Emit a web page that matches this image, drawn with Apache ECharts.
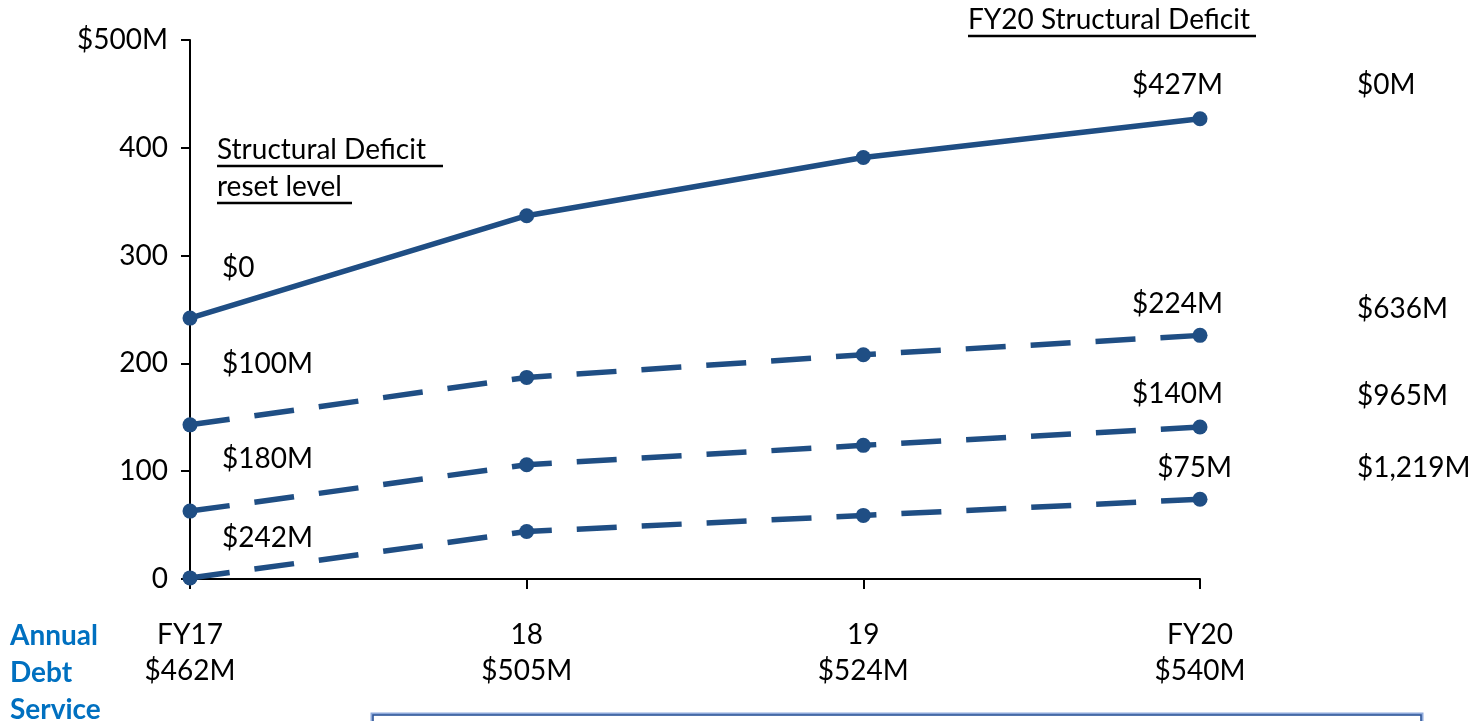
<!DOCTYPE html>
<html>
<head>
<meta charset="utf-8">
<script src="https://cdn.jsdelivr.net/npm/echarts@6/dist/echarts.min.js"></script>
<style>
    html, body { margin: 0; padding: 0; background: #fff; }
    #chart { width: 1480px; height: 721px; }
</style>
</head>
<body>
<div id="chart"></div>
<script>
// Data
const years = ['FY17', '18', '19', 'FY20']
const debtService = ['$462M', '$505M', '$524M', '$540M']
const resetZero = [242, 337, 391, 427]
const reset100 = [143, 187, 208, 226]
const reset180 = [63, 106, 124, 141]
const reset242 = [1, 44, 59, 74]
const resetLabels = ['$0', '$100M', '$180M', '$242M']
const endLabels = ['$427M', '$224M', '$140M', '$75M']
const fy20Deficit = ['$0M', '$636M', '$965M', '$1,219M']

const blue = '#1F4E84'
const font = 'Lato, "Open Sans", sans-serif'
const fs = 28

const chart = echarts.init(document.getElementById('chart'))

function lineSeries(name, data, dashed) {
    return {
        name: name,
        type: 'line',
        data: data,
        symbol: 'circle',
        symbolSize: 15,
        itemStyle: { color: blue },
        lineStyle: { color: blue, width: 5.5, type: dashed ? [40, 25] : 'solid' },
        animation: false,
        z: 3
    }
}

function txt(x, y, text, align) {
    return {
        type: 'text',
        x: x,
        y: y,
        style: { text: text, font: fs + 'px ' + font, fill: '#000', textVerticalAlign: 'middle', textAlign: align || 'left' }
    }
}

function underline(x1, x2, y) {
    return { type: 'line', shape: { x1: x1, y1: y, x2: x2, y2: y }, style: { stroke: '#000', lineWidth: 2.5 } }
}

const graphics = []

// left labels (reset level)
const leftY = [268, 364, 459, 538]
resetLabels.forEach((t, i) => graphics.push(txt(222, leftY[i], t)))

// end labels near FY20 points
const endY = [85, 304, 394, 468]
endLabels.forEach((t, i) => graphics.push(txt(1223 + (i === 3 ? 9 : 0), endY[i], t, 'right')))

// FY20 structural deficit column
const rightY = [85, 309, 396, 468]
fy20Deficit.forEach((t, i) => graphics.push(txt(1357, rightY[i], t)))

// headings
graphics.push(txt(968, 20, 'FY20 Structural Deficit'))
graphics.push(underline(968, 1256, 36))
graphics.push(txt(217, 150, 'Structural Deficit'))
graphics.push(underline(217, 443, 166))
graphics.push(txt(217, 187, 'reset level'))
graphics.push(underline(217, 352, 203))

// Annual Debt Service
;['Annual', 'Debt', 'Service'].forEach((t, i) => graphics.push({
    type: 'text', x: 10, y: 636 + i * 37,
    style: { text: t, font: 'bold ' + fs + 'px ' + font, fill: '#0070C0', textVerticalAlign: 'middle' }
}))

// box at bottom
graphics.push({ type: 'rect', shape: { x: 372, y: 714, width: 1050, height: 40 }, style: { fill: 'none', stroke: '#8EA9DB', lineWidth: 3 } })
graphics.push({ type: 'rect', shape: { x: 373, y: 715, width: 1048, height: 40 }, style: { fill: 'none', stroke: '#2F5597', lineWidth: 1.5 } })

const option = {
    backgroundColor: '#fff',
    animation: false,
    grid: { left: 190, right: 280, top: 40, bottom: 142, containLabel: false },
    xAxis: {
        type: 'category',
        data: years,
        boundaryGap: false,
        axisLine: { lineStyle: { color: '#000', width: 2 } },
        axisTick: { show: true, inside: false, length: 10, alignWithLabel: true, lineStyle: { color: '#000', width: 2 } },
        axisLabel: {
            margin: 38,
            color: '#000',
            fontSize: fs,
            fontFamily: font,
            lineHeight: 36,
            formatter: (v, i) => v + '\n' + debtService[i]
        },
        splitLine: { show: false }
    },
    yAxis: {
        type: 'value',
        min: 0,
        max: 500,
        interval: 100,
        axisLine: { show: true, lineStyle: { color: '#000', width: 2 } },
        axisTick: { show: true, inside: false, length: 9, lineStyle: { color: '#000', width: 2 } },
        axisLabel: {
            margin: 22,
            color: '#000',
            fontSize: fs,
            fontFamily: font,
            formatter: v => v === 500 ? '$500M' : String(v)
        },
        splitLine: { show: false }
    },
    series: [
        lineSeries('$0', resetZero, false),
        lineSeries('$100M', reset100, true),
        lineSeries('$180M', reset180, true),
        lineSeries('$242M', reset242, true)
    ],
    graphic: graphics
}

chart.setOption(option)
</script>
</body>
</html>
